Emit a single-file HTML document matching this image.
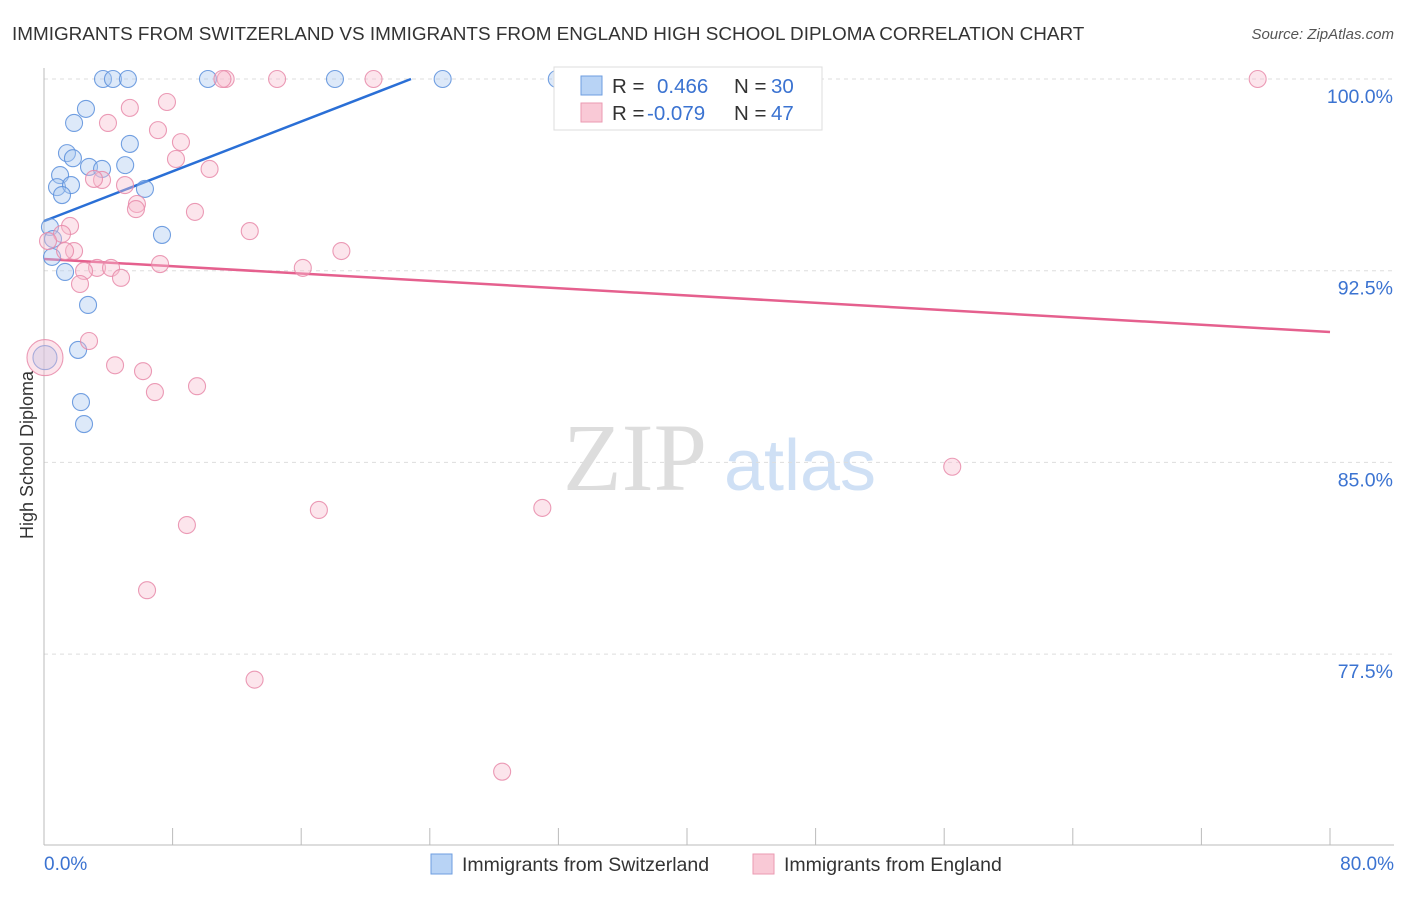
<!DOCTYPE html>
<html><head><meta charset="utf-8"><style>
body{margin:0;background:#fff;font-family:"Liberation Sans",sans-serif;}
</style></head><body>
<svg id="chart" width="1406" height="892" xmlns="http://www.w3.org/2000/svg">
<text x="12" y="40" font-size="18.9" fill="#333">IMMIGRANTS FROM SWITZERLAND VS IMMIGRANTS FROM ENGLAND HIGH SCHOOL DIPLOMA CORRELATION CHART</text>
<text x="1394" y="39" font-size="15" fill="#555" font-style="italic" text-anchor="end">Source: ZipAtlas.com</text>
<text x="33" y="455" font-size="18" fill="#333" text-anchor="middle" transform="rotate(-90 33 455)">High School Diploma</text>
<g><text x="635" y="490" font-size="96" fill="#ddd" font-family="Liberation Serif,serif" text-anchor="middle">ZIP</text><text x="800" y="490" font-size="72" fill="#cfe0f5" text-anchor="middle">atlas</text></g>
<g id="grid"></g><g id="lines"></g><g id="pts"></g>
<g>
<rect x="554" y="67" width="268" height="63" fill="#fff" stroke="#ddd"/>
<rect x="581" y="76" width="21" height="19" fill="#b8d3f5" stroke="#6e9ee0"/>
<rect x="581" y="103" width="21" height="19" fill="#f9c9d6" stroke="#eb9ab2"/>
<text x="612" y="93" font-size="20.5" fill="#333">R =</text><text x="657" y="93" font-size="20.5" fill="#3b73d1">0.466</text>
<text x="734" y="93" font-size="20.5" fill="#333">N =</text><text x="771" y="93" font-size="20.5" fill="#3b73d1">30</text>
<text x="612" y="120" font-size="20.5" fill="#333">R =</text><text x="647" y="120" font-size="20.5" fill="#3b73d1">-0.079</text>
<text x="734" y="120" font-size="20.5" fill="#333">N =</text><text x="771" y="120" font-size="20.5" fill="#3b73d1">47</text>
</g>
<g>
<rect x="431" y="854" width="21" height="20" fill="#b8d3f5" stroke="#6e9ee0"/>
<text x="462" y="871" font-size="19.5" fill="#333">Immigrants from Switzerland</text>
<rect x="753" y="854" width="21" height="20" fill="#f9c9d6" stroke="#eb9ab2"/>
<text x="784" y="871" font-size="19.5" fill="#333">Immigrants from England</text>
</g>
<text x="44" y="870" font-size="19" fill="#3b73d1">0.0%</text>
<text x="1394" y="870" font-size="19" fill="#3b73d1" text-anchor="end">80.0%</text>
</svg>
<script>
const blueX=[3.67,4.29,5.22,10.2,18.1,24.8,31.9,2.61,1.87,5.34,1.43,1.8,2.8,5.05,3.61,1.0,0.81,1.68,1.12,6.28,0.37,0.56,7.34,0.5,1.31,2.74,2.12,0.06,2.3,2.49];
const blueY=[100,100,100,100,100,100,100,98.83,98.28,97.46,97.1,96.9,96.56,96.63,96.48,96.24,95.77,95.85,95.46,95.7,94.21,93.74,93.9,93.04,92.45,91.16,89.4,89.1,87.36,86.5];
const pinkX=[11.3,11.1,14.5,20.5,75.5,7.65,5.34,3.98,7.09,8.52,8.21,10.3,5.04,3.61,3.11,5.78,5.72,9.39,12.8,1.62,1.12,0.25,18.5,1.87,1.31,3.3,4.17,7.22,16.1,2.49,4.79,2.24,2.8,0.06,4.42,6.16,6.9,9.52,56.5,31.0,17.1,8.89,6.41,13.1,28.5];
const pinkY=[100,100,100,100,100,99.1,98.87,98.28,98.0,97.53,96.87,96.48,95.85,96.05,96.09,95.11,94.91,94.8,94.05,94.25,93.94,93.66,93.27,93.27,93.27,92.61,92.61,92.76,92.61,92.49,92.22,91.98,89.75,89.1,88.8,88.57,87.75,87.98,84.83,83.22,83.14,82.55,80.0,76.5,72.9];
const ticksY=[100,92.5,85,77.5];
const tickLabels=["100.0%","92.5%","85.0%","77.5%"];
const blueLine=[0,94.44,22.83,100];
const pinkLine=[0,92.96,80,90.1];
const X=v=>44+v*16.075, Y=v=>79+(100-v)*25.56;
const NS="http://www.w3.org/2000/svg";
function mk(t,a,p){const e=document.createElementNS(NS,t);for(const k in a)e.setAttribute(k,a[k]);document.getElementById(p).appendChild(e);return e;}
ticksY.forEach((t,i)=>{
 const l=mk('line',{x1:44,x2:1394,y1:Y(t),y2:Y(t),stroke:'#ddd','stroke-dasharray':'4,4'},'grid');
 
 
 const tx=mk('text',{x:1393,y:Y(t)+24,'font-size':19.5,fill:'#3b73d1','text-anchor':'end'},'grid');tx.textContent=tickLabels[i];
 
 
});
mk('line',{x1:44,x2:44,y1:68,y2:845,stroke:'#bbb'},'grid');
mk('line',{x1:44,x2:1394,y1:845,y2:845,stroke:'#bbb'},'grid');
for(let i=0;i<=10;i++){const t=mk('line',{x1:X(i*8),x2:X(i*8),y1:828,y2:845,stroke:'#bbb'},'grid');
 
 }
function pt(x,y,c,s,r){const e=mk('circle',{cx:X(x),cy:Y(y),r:r,fill:c,'fill-opacity':0.4,stroke:s,'stroke-width':1.1,'stroke-opacity':0.85},'pts');return e;}
blueX.forEach((x,i)=>{const e=pt(x,blueY[i],'#a9c8f0','#5a8fdc',x<0.1?12:8.5);
 
 });
pinkX.forEach((x,i)=>{const e=pt(x,pinkY[i],'#f7bdd0','#e88aa9',x<0.1?18:8.5);
 
 });
const bl=mk('line',{x1:X(blueLine[0]),y1:Y(blueLine[1]),x2:X(blueLine[2]),y2:Y(blueLine[3]),stroke:'#2a6fd6','stroke-width':2.5},'lines');


const pl=mk('line',{x1:X(pinkLine[0]),y1:Y(pinkLine[1]),x2:X(pinkLine[2]),y2:Y(pinkLine[3]),stroke:'#e5608e','stroke-width':2.5},'lines');


</script>
</body></html>
